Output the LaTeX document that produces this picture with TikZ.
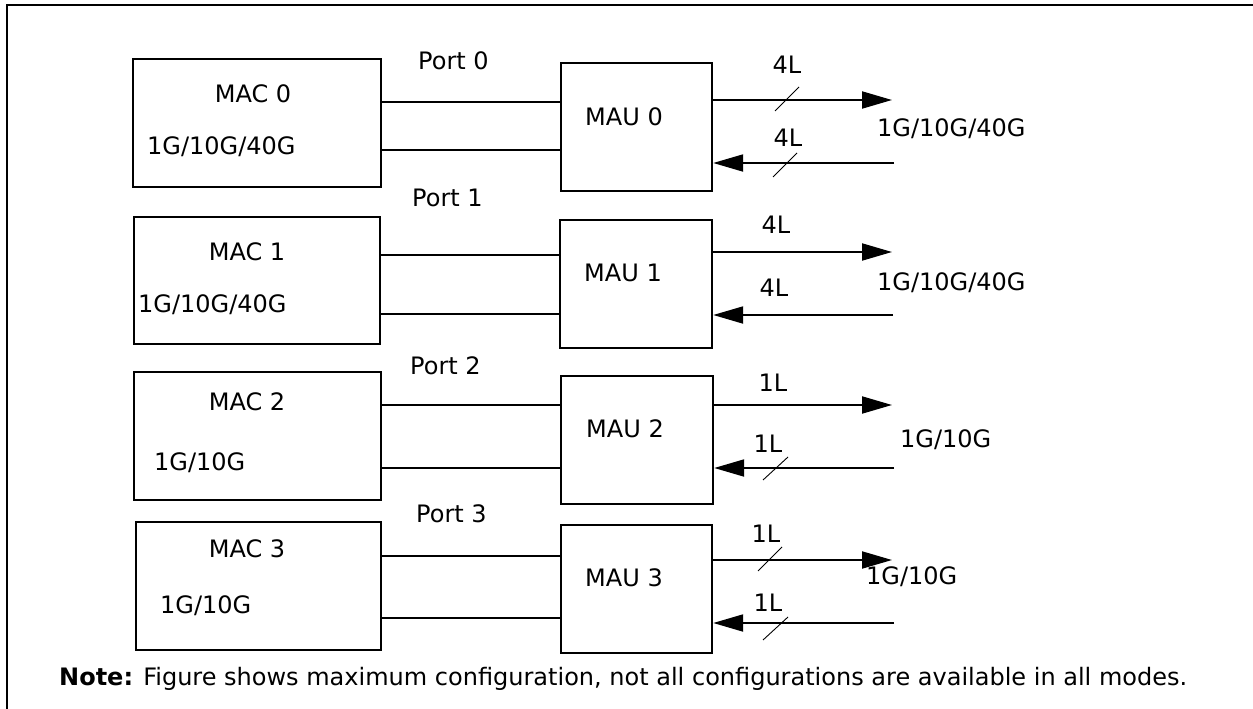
\documentclass[tikz,border=0pt]{standalone}
\usepackage{fontspec}
\setmainfont{DejaVu Sans}
\usetikzlibrary{arrows.meta}
\begin{document}
\begin{tikzpicture}[x=1pt,y=-1pt,
  font=\fontsize{24}{28}\selectfont,
  blk/.style={draw, line width=2.4pt, inner sep=0pt},
  txt/.style={inner sep=0pt},
  wire/.style={line width=2pt},
  sig/.style={line width=2pt, -{Triangle[length=30pt,width=17pt]}},
  lane/.style={line width=0.9pt},
  frame/.style={line width=2pt}]
\useasboundingbox (0,0) rectangle (1253,709);
% frame (open at right and bottom)
\coordinate (fbl) at (7,709);
\coordinate (ftl) at (7,5);
\coordinate (ftr) at (1253,5);
\draw[frame] (fbl) -- (ftl) -- (ftr);

% MAC boxes
\node[blk, minimum width=248pt, minimum height=128pt] (mac0) at (257,123) {};
\node[blk, minimum width=246pt, minimum height=127pt] (mac1) at (257,280.5) {};
\node[blk, minimum width=247pt, minimum height=128pt] (mac2) at (257.5,436) {};
\node[blk, minimum width=245pt, minimum height=128pt] (mac3) at (258.5,586) {};
% MAU boxes
\node[blk, minimum width=151pt, minimum height=128pt] (mau0) at (636.5,127) {};
\node[blk, minimum width=152pt, minimum height=128pt] (mau1) at (636,284) {};
\node[blk, minimum width=152pt, minimum height=128pt] (mau2) at (637,440) {};
\node[blk, minimum width=151pt, minimum height=128pt] (mau3) at (636.5,589) {};

% box texts
\node[txt] (tmac0) at (253,94) {MAC 0};
\node[txt, anchor=west] (smac0) at (147,147) {1G/10G/40G};
\node[txt] (tmac1) at (247,252) {MAC 1};
\node[txt, anchor=west] (smac1) at (138,305) {1G/10G/40G};
\node[txt] (tmac2) at (247,402) {MAC 2};
\node[txt, anchor=west] (smac2) at (154,463) {1G/10G};
\node[txt] (tmac3) at (247,549) {MAC 3};
\node[txt, anchor=west] (smac3) at (160,606) {1G/10G};
\node[txt] (tmau0) at (624,117) {MAU 0};
\node[txt] (tmau1) at (623,273) {MAU 1};
\node[txt] (tmau2) at (625,429) {MAU 2};
\node[txt] (tmau3) at (624,578) {MAU 3};

% port labels
\node[txt, anchor=west] (p0) at (418,61) {Port 0};
\node[txt, anchor=west] (p1) at (412,198) {Port 1};
\node[txt, anchor=west] (p2) at (410,366) {Port 2};
\node[txt, anchor=west] (p3) at (416,514) {Port 3};

% MAC-MAU wires
\coordinate (w0a) at (0,102); \coordinate (w0b) at (0,150);
\coordinate (w1a) at (0,255); \coordinate (w1b) at (0,314);
\coordinate (w2a) at (0,405); \coordinate (w2b) at (0,468);
\coordinate (w3a) at (0,556); \coordinate (w3b) at (0,618);
\foreach \i in {0,1,2,3}{
  \draw[wire] (mac\i.east |- w\i a) -- (mau\i.west |- w\i a);
  \draw[wire] (mac\i.east |- w\i b) -- (mau\i.west |- w\i b);
}

% outgoing / incoming signals
\coordinate (o0) at (892,100); \coordinate (i0) at (894,163);
\coordinate (o1) at (892,252); \coordinate (i1) at (893,315);
\coordinate (o2) at (892,405); \coordinate (i2) at (894,468);
\coordinate (o3) at (892,560); \coordinate (i3) at (894,623);
\foreach \i in {0,1,2,3}{
  \draw[sig] (mau\i.east |- o\i) -- (o\i);
  \draw[sig] (i\i) -- (mau\i.east |- i\i);
}

% lane slashes
\coordinate (s0a) at (775,111); \coordinate (s0b) at (799,87);
\coordinate (s1a) at (773,177); \coordinate (s1b) at (797,153);
\coordinate (s2a) at (763,480); \coordinate (s2b) at (788,457);
\coordinate (s3a) at (758,571); \coordinate (s3b) at (782,547);
\coordinate (s4a) at (763,640); \coordinate (s4b) at (788,617);
\foreach \j in {0,...,4}{ \draw[lane] (s\j a) -- (s\j b); }

% lane labels
\node[txt] (l0o) at (787,65) {4L};
\node[txt] (l0i) at (788,138) {4L};
\node[txt] (l1o) at (776,225) {4L};
\node[txt] (l1i) at (774,288) {4L};
\node[txt] (l2o) at (773,383) {1L};
\node[txt] (l2i) at (768,444) {1L};
\node[txt] (l3o) at (766,534) {1L};
\node[txt] (l3i) at (768,603) {1L};

% rate labels
\node[txt, anchor=west] (r0) at (877,129) {1G/10G/40G};
\node[txt, anchor=west] (r1) at (877,283) {1G/10G/40G};
\node[txt, anchor=west] (r2) at (900,440) {1G/10G};
\node[txt, anchor=west] (r3) at (866,577) {1G/10G};

% note
\node[txt, anchor=base west] (note) at (59,685) {\textbf{Note:} Figure shows maximum configuration, not all configurations are available in all modes.};
\end{tikzpicture}
\end{document}
